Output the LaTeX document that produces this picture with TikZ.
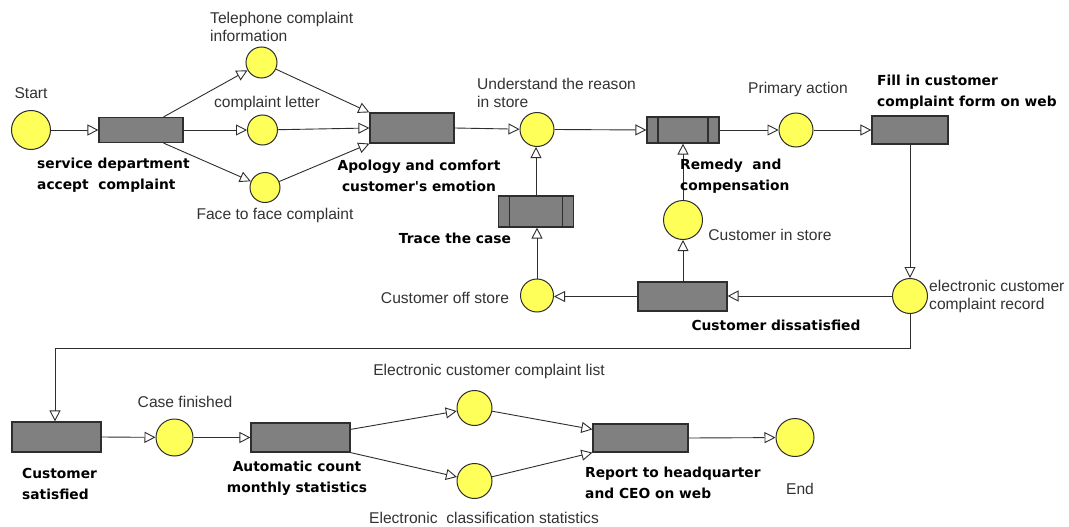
\documentclass[tikz,border=0pt]{standalone}
\usepackage{fontspec}
\setmainfont{Liberation Sans}
\newfontfamily\vera{DejaVu Sans}
\usetikzlibrary{arrows.meta,calc}
\definecolor{placeyellow}{HTML}{FFFF5A}
\definecolor{boxgray}{HTML}{808080}
\definecolor{edge}{HTML}{2E2E2E}
\definecolor{txt}{HTML}{333333}
\begin{document}
\begin{tikzpicture}[x=1pt,y=-1pt,
  trans/.style={draw=edge,line width=1.2pt,fill=boxgray,rectangle,inner sep=0pt},
  dtrans/.style={trans,path picture={
      \draw[edge,line width=1.2pt]
        ([xshift=11pt]path picture bounding box.north west) -- ([xshift=11pt]path picture bounding box.south west)
        ([xshift=-11pt]path picture bounding box.north east) -- ([xshift=-11pt]path picture bounding box.south east);}},
  place/.style={draw=edge,line width=1pt,fill=placeyellow,circle,inner sep=0pt},
  flow/.style={draw=edge,line width=0.9pt,-{Triangle[length=11pt,width=11pt,fill=white,line width=0.9pt]}},
  lbl/.style={text=txt,font=\fontsize{15.6}{18}\selectfont,inner sep=0pt},
  blbl/.style={text=black,font=\vera\bfseries\fontsize{13.8}{21.5}\selectfont,inner sep=0pt},
]
\path[use as bounding box,fill=white] (0,0) rectangle (1069,527);

% transitions
\node[trans,minimum width=84pt,minimum height=25pt] (acc) at (141,130) {};
\node[trans,minimum width=84pt,minimum height=30pt] (apo) at (412,128) {};
\node[dtrans,minimum width=72pt,minimum height=26pt] (rem) at (683,130) {};
\node[dtrans,minimum width=75pt,minimum height=31pt] (trc) at (536,211.5) {};
\node[trans,minimum width=76pt,minimum height=28pt] (fill) at (910,130) {};
\node[trans,minimum width=89pt,minimum height=29pt] (dis) at (682.5,296.5) {};
\node[trans,minimum width=89pt,minimum height=30pt] (sat) at (56.5,437) {};
\node[trans,minimum width=99pt,minimum height=29pt] (auto) at (300.5,437.5) {};
\node[trans,minimum width=95pt,minimum height=28pt] (rep) at (640.5,438) {};

% places
\node[place,minimum size=39pt] (start) at (31,130) {};
\node[place,minimum size=31pt] (tel) at (261.5,62.5) {};
\node[place,minimum size=30pt] (let) at (262.5,130) {};
\node[place,minimum size=30pt] (face) at (265,187.5) {};
\node[place,minimum size=34pt] (und) at (537,129.5) {};
\node[place,minimum size=39pt] (cis) at (683,220) {};
\node[place,minimum size=34pt] (pri) at (796,130) {};
\node[place,minimum size=35pt] (rec) at (910,296) {};
\node[place,minimum size=33pt] (off) at (537,295.5) {};
\node[place,minimum size=37pt] (cf) at (174.5,437.5) {};
\node[place,minimum size=35pt] (lst) at (474.5,408) {};
\node[place,minimum size=35pt] (cls) at (474.5,481) {};
\node[place,minimum size=38pt] (end) at (795,437.5) {};

% arcs
\draw[flow] (start) -- (acc.west);
\draw[flow] ([xshift=-20pt]acc.north east) -- (tel);
\draw[flow] (acc.east) -- (let);
\draw[flow] ([xshift=-20pt]acc.south east) -- (face);
\draw[flow] (tel) -- (apo.north west);
\draw[flow] (let) -- (apo.west);
\draw[flow] (face) -- (apo.south west);
\draw[flow] (apo.east) -- (und);
\draw[flow] (und.east) -- (rem.west);
\draw[flow] (trc.north) -- (trc.north |- und.south);
\draw[flow] (off.north) -- (off.north |- trc.south);
\draw[flow] (rem.east) -- (pri);
\draw[flow] (pri) -- (fill.west);
\draw[flow] (fill.south) -- (rec.north);
\draw[flow] (rec.west) -- (rec.west -| dis.east);
\draw[flow] (dis.north -| cis.south) -- (cis.south);
\draw[flow] (cis.north) -- (cis.north |- rem.south);
\draw[flow] (dis.west) -- (dis.west -| off.east);
\coordinate (turn) at (55,348);
\draw[flow] (rec.south) |- (turn) -- (turn |- sat.north);
\draw[flow] (sat.east) -- (cf);
\draw[flow] (cf) -- (auto.west);
\draw[flow] ([yshift=-7pt]auto.north east) -- (lst);
\draw[flow] (auto.south east) -- (cls);
\draw[flow] (lst) -- ([yshift=-6pt]rep.north west);
\draw[flow] (cls) -- (rep.south west);
\draw[flow] (rep.east) -- (end);

% labels
\node[lbl] (l-start) at (31,93) {Start};
\node[lbl,anchor=west,align=left] (l-tel) at (210,27) {Telephone complaint\\information};
\node[lbl] (l-let) at (267,103) {complaint letter};
\node[lbl] (l-face) at (275,215) {Face to face complaint};
\node[blbl,anchor=west,align=left] (l-acc) at (37,175) {service department\\accept\ \ complaint};
\node[blbl,align=center] (l-apo) at (419,176) {Apology and comfort\\customer's emotion};
\node[lbl,anchor=west,align=left] (l-und) at (477,93) {Understand the reason\\in store};
\node[blbl] (l-trc) at (455,238) {Trace the case};
\node[blbl,anchor=west,align=left] (l-rem) at (680,176) {Remedy\ \ and\\compensation};
\node[lbl] (l-pri) at (798,89) {Primary action};
\node[blbl,anchor=west,align=left] (l-fill) at (877,92) {Fill in customer\\complaint form on web};
\node[lbl] (l-cis) at (770,235) {Customer in store};
\node[lbl,anchor=west,align=left] (l-rec) at (929,296) {electronic customer\\complaint record};
\node[blbl] (l-dis) at (776,325) {Customer dissatisfied};
\node[lbl] (l-off) at (445,298) {Customer off store};
\node[lbl] (l-cf) at (185,402) {Case finished};
\node[blbl,anchor=west,align=left] (l-sat) at (22,484) {Customer\\satisfied};
\node[blbl,align=center] (l-auto) at (297,478) {Automatic count\\monthly statistics};
\node[lbl] (l-lst) at (489,371) {Electronic customer complaint list};
\node[lbl] (l-cls) at (484,518) {Electronic\ \ classification statistics};
\node[blbl,anchor=west,align=left] (l-rep) at (585,483) {Report to headquarter\\and CEO on web};
\node[lbl] (l-end) at (800,489) {End};
\end{tikzpicture}
\end{document}
